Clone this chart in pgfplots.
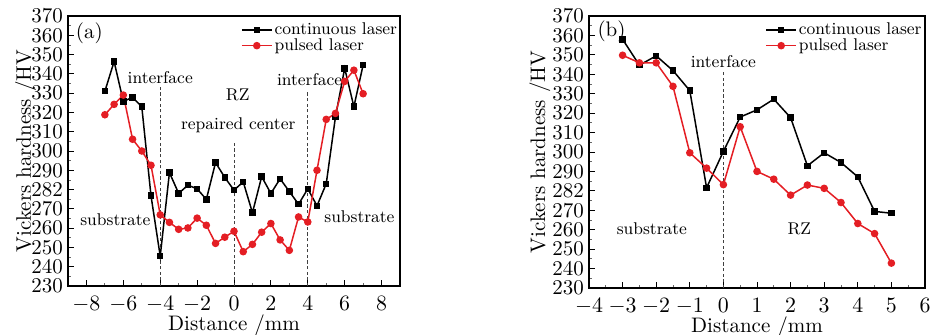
\documentclass[border=0pt]{standalone}
\usepackage{pgfplots}
\pgfplotsset{compat=1.18}
\definecolor{myred}{RGB}{228,30,36}
\tikzset{ann/.style={font=\fontsize{8.5}{10}\selectfont}}
\begin{document}
\begin{tikzpicture}
\useasboundingbox (0pt,0pt) rectangle (467pt,167pt);
\pgfplotsset{
  hard/.style={
    scale only axis,
    axis line style={line width=0.7pt},
    tick align=inside, tick pos=left,
    major tick length=3pt, minor tick length=1.6pt,
    tick style={line width=0.5pt,black},
    minor tick style={line width=0.4pt,black!60},
    tick label style={font=\fontsize{10.5}{12}\selectfont},
    label style={font=\fontsize{10.5}{12}\selectfont},
    ymin=230, ymax=370,
    ytick={230,240,...,370},
    minor y tick num=1,
    yticklabels={230,240,250,260,270,282,290,300,310,320,330,340,350,360,370},
    yticklabel style={xshift=1pt},
    xticklabel style={yshift=-1.5pt},
    minor x tick num=1,
    xlabel={Distance /mm},
    ylabel={Vickers hardness /HV},
    xlabel style={at={(axis description cs:0.5,0)}, anchor=north, yshift=-10.7pt},
    legend style={anchor=north west, draw=none, fill=none,
      font=\fontsize{8.5}{9}\selectfont, row sep=-1.5pt, inner sep=0pt,
      nodes={inner sep=1pt}},
    legend cell align=left,
    legend image code/.code={\draw[mark repeat=2,mark phase=2] plot coordinates {(0pt,0pt) (7.5pt,0pt) (15pt,0pt)};},
  },
  cl/.style={black, line width=0.75pt, mark=square*, mark size=1.25pt},
  pl/.style={myred, line width=0.75pt, mark=*, mark size=1.5pt, mark options={fill=myred}},
  dl/.style={black!75, line width=0.5pt, dash pattern=on 1.6pt off 1.2pt, forget plot},
}
% ---------- (a)
\begin{axis}[hard,
  at={(34pt,24pt)}, anchor=south west, width=166pt, height=135pt,
  xmin=-9, xmax=9, xtick={-8,-6,...,8},
  ylabel style={at={(axis description cs:-0.128,0.5)}, anchor=center},
  legend style={at={(axis description cs:0.52,0.985)}},
]
\addplot[dl] coordinates {(-4,230) (-4,333)};
\addplot[dl] coordinates {(0,230) (0,305)};
\addplot[dl] coordinates {(4,230) (4,331)};
\addplot[cl] coordinates {
(-7,331) (-6.5,346.4) (-6,325.7) (-5.5,327.8) (-5,323) (-4.5,276.8) (-4,245.5)
(-3.5,288.8) (-3,278) (-2.5,282.3) (-2,280.4) (-1.5,274.9) (-1,294) (-0.5,286.3)
(0,279.7) (0.5,284) (1,268) (1.5,286.7) (2,278) (2.5,285.6) (3,279) (3.5,272.4)
(4,280.4) (4.5,271.6) (5,283) (5.5,317.6) (6,342.9) (6.5,323) (7,344.6)};
\addlegendentry{continuous laser}
\addplot[pl] coordinates {
(-7,318.8) (-6.5,324.2) (-6,329) (-5.5,306.1) (-5,300) (-4.5,292.6) (-4,266.9)
(-3.5,263) (-3,259.4) (-2.5,260.1) (-2,265.2) (-1.5,261.5) (-1,252.1) (-0.5,255.3)
(0,258.4) (0.5,247.8) (1,251.6) (1.5,257.9) (2,262.4) (2.5,253.9) (3,248.5)
(3.5,265.8) (4,263.2) (4.5,290) (5,316.4) (5.5,319.5) (6,336.1) (6.5,341.9) (7,329.7)};
\addlegendentry{pulsed laser}
\node[font=\fontsize{10.5}{12}\selectfont] at (axis cs:-7.84,361) {(a)};
\node[ann] at (axis cs:-4,338.2) {interface};
\node[ann] at (axis cs:0.2,328.9) {RZ};
\node[ann] at (axis cs:0.23,313.2) {repaired center};
\node[ann] at (axis cs:4.1,337.2) {interface};
\node[ann] at (axis cs:-6.43,264.6) {substrate};
\node[ann] at (axis cs:6.8,266) {substrate};
\end{axis}
% ---------- (b)
\begin{axis}[hard,
  at={(294.5pt,23pt)}, anchor=south west, width=168pt, height=136pt,
  xmin=-4, xmax=6, xtick={-4,-3,...,6}, minor x tick num=1,
  ylabel style={at={(axis description cs:-0.146,0.5)}, anchor=center},
  legend style={at={(axis description cs:0.524,0.985)}},
]
\addplot[dl] coordinates {(0,230) (0,341)};
\addplot[cl] coordinates {
(-3,358) (-2.5,344.7) (-2,349.5) (-1.5,341.9) (-1,331.6) (-0.5,281.6) (0,300.3)
(0.5,318) (1,321.7) (1.5,327.2) (2,317.7) (2.5,292.9) (3,299.6) (3.5,294.6)
(4,287.2) (4.5,269.4) (5,268.5)};
\addlegendentry{continuous laser}
\addplot[pl] coordinates {
(-3,349.8) (-2.5,345.9) (-2,345.9) (-1.5,333.8) (-1,299.6) (-0.5,291.7) (0,283.2)
(0.5,313) (1,290) (1.5,286) (2,277.8) (2.5,283) (3,281.3) (3.5,274) (4,263.2)
(4.5,258) (5,242.8)};
\addlegendentry{pulsed laser}
\node[font=\fontsize{10.5}{12}\selectfont] at (axis cs:-3.33,362) {(b)};
\node[ann] at (axis cs:0,346.6) {interface};
\node[ann] at (axis cs:-2.13,260.6) {substrate};
\node[ann] at (axis cs:2.26,260.6) {RZ};
\end{axis}
\end{tikzpicture}
\end{document}
